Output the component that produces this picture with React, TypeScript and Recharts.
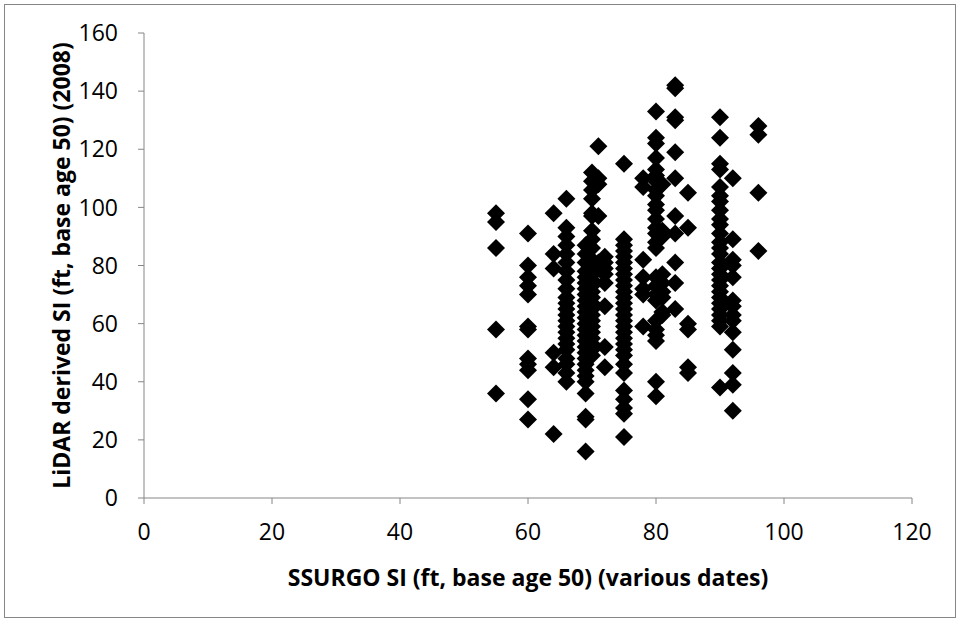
import React from "react";
import { ScatterChart, Scatter, XAxis, YAxis } from "recharts";

// LiDAR-derived site index grouped by the SSURGO site index class (ft, base age 50)
const ssurgoClasses = [55, 60, 64, 66, 69, 70, 71, 72, 75, 78, 80, 81, 83, 85, 90, 92, 96];

const lidarAt55 = [98, 95, 86, 58, 36];
const lidarAt60 = [91, 80, 76, 73, 70, 59, 58, 48, 46, 44, 34, 27];
const lidarAt64 = [98, 84, 79, 50, 45, 22];
const lidarAt66 = [103, 93, 90, 87, 84, 81, 78, 75, 72, 69, 67, 65, 63, 61, 59, 57, 55, 53, 51, 48, 46, 43, 40];
const lidarAt69 = [87, 84, 81, 78, 76, 74, 72, 70, 68, 66, 64, 62, 60, 58, 56, 54, 52, 50, 48, 46, 44, 42, 40, 36, 28, 27, 16];
const lidarAt70 = [112, 109, 106, 103, 98, 97, 92, 89, 86, 82, 80, 77, 75, 73, 71, 69, 67, 65, 63, 61, 59, 57, 55, 53, 51, 49];
const lidarAt71 = [121, 110, 108, 97, 81, 79];
const lidarAt72 = [83, 81, 79, 77, 74, 66, 52, 45];
const lidarAt75 = [115, 89, 87, 85, 83, 81, 79, 77, 75, 73, 71, 69, 67, 65, 63, 61, 59, 57, 55, 53, 51, 49, 46, 43, 37, 34, 31, 29, 21];
const lidarAt78 = [110, 107, 82, 76, 72, 70, 59];
const lidarAt80 = [133, 124, 122, 117, 113, 111, 109, 106, 104, 101, 99, 96, 93, 91, 88, 86, 76, 73, 70, 68, 61, 58, 56, 54, 40, 35];
const lidarAt81 = [108, 92, 90, 77, 74, 71, 69, 64, 63];
const lidarAt83 = [142, 141, 131, 130, 119, 110, 97, 91, 81, 74, 65];
const lidarAt85 = [105, 93, 60, 58, 45, 43];
const lidarAt90 = [131, 124, 115, 113, 107, 104, 102, 99, 96, 94, 91, 88, 86, 84, 81, 79, 77, 75, 73, 71, 69, 67, 65, 63, 61, 59, 38];
const lidarAt92 = [110, 89, 82, 80, 76, 68, 66, 63, 61, 57, 51, 43, 39, 30];
const lidarAt96 = [128, 125, 105, 85];

const lidarByClass = [
  lidarAt55, lidarAt60, lidarAt64, lidarAt66, lidarAt69, lidarAt70, lidarAt71, lidarAt72,
  lidarAt75, lidarAt78, lidarAt80, lidarAt81, lidarAt83, lidarAt85, lidarAt90, lidarAt92, lidarAt96,
];

const xTicks = [0, 20, 40, 60, 80, 100, 120];
const yTicks = [0, 20, 40, 60, 80, 100, 120, 140, 160];

const points = ssurgoClasses.flatMap((ssurgo, i) =>
  lidarByClass[i].map((lidar) => ({ ssurgo, lidar }))
);

const FONT = "'Open Sans', 'Liberation Sans', sans-serif";
const AXIS_GRAY = "#868686";

// Square diamond marker, as drawn by spreadsheet charts
const Diamond = (props: any) => {
  const { cx, cy } = props;
  const r = 9;
  return (
    <path
      d={`M${cx},${cy - r}L${cx + r},${cy}L${cx},${cy + r}L${cx - r},${cy}Z`}
      fill="#000"
    />
  );
};

export default function App() {
  return (
    <div style={{ position: "absolute", left: 0, top: 0, width: 963, height: 621, background: "#fff" }}>
      <div
        style={{
          position: "absolute",
          left: 4,
          top: 4,
          width: 952,
          height: 614,
          border: `1.5px solid ${AXIS_GRAY}`,
          boxSizing: "border-box",
        }}
      />
      <ScatterChart
        width={963}
        height={621}
        margin={{ top: 33, right: 51, bottom: 83, left: 84 }}
        style={{ position: "absolute", left: 0, top: 0, fontFamily: FONT }}
      >
        <XAxis
          type="number"
          dataKey="ssurgo"
          domain={[0, 120]}
          ticks={xTicks}
          interval={0}
          height={40}
          stroke={AXIS_GRAY}
          tickSize={6}
          tickMargin={20}
          tick={{ fill: "#000", fontSize: 23, fontFamily: FONT }}
          label={{
            value: "SSURGO SI (ft, base age 50) (various dates)",
            position: "bottom",
            offset: 32,
            style: { fill: "#000", fontSize: 23, fontWeight: 700, fontFamily: FONT },
          }}
        />
        <YAxis
          type="number"
          dataKey="lidar"
          domain={[0, 160]}
          ticks={yTicks}
          interval={0}
          width={60}
          stroke={AXIS_GRAY}
          tickSize={6}
          tickMargin={20}
          tick={{ fill: "#000", fontSize: 23, fontFamily: FONT }}
          label={{
            value: "LiDAR derived SI (ft, base age 50) (2008)",
            angle: -90,
            position: "left",
            offset: 22,
            style: { fill: "#000", fontSize: 23, fontWeight: 700, fontFamily: FONT, textAnchor: "middle" },
          }}
        />
        <Scatter data={points} shape={Diamond} isAnimationActive={false} />
      </ScatterChart>
    </div>
  );
}
